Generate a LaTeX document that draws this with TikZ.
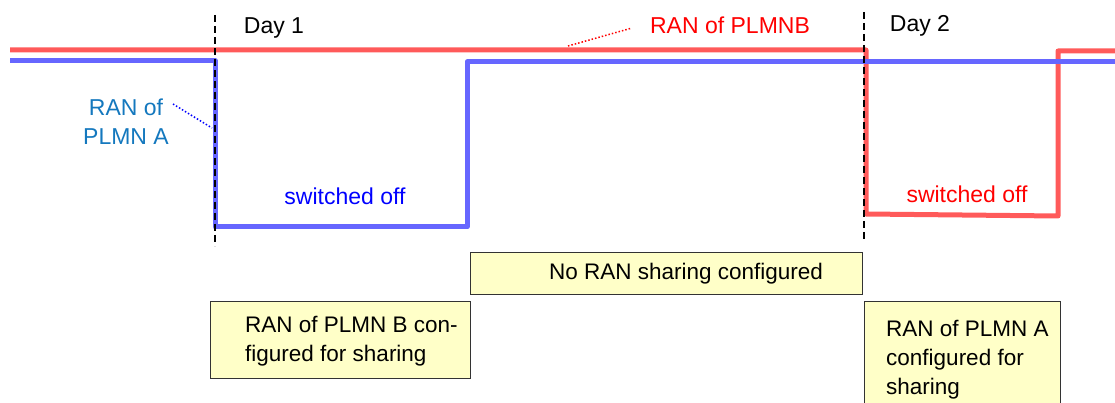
\documentclass[tikz,border=0pt]{standalone}
\usepackage{fontspec}
\setmainfont{Liberation Sans}
\definecolor{redln}{RGB}{255,90,90}
\definecolor{blueln}{RGB}{102,102,255}
\definecolor{redtxt}{RGB}{255,0,0}
\definecolor{bluetxt}{RGB}{20,120,190}
\definecolor{notefill}{RGB}{255,255,200}
\begin{document}
\begin{tikzpicture}[x=1pt,y=-1pt,
  redline/.style={draw=redln, line width=5pt, line join=round},
  blueline/.style={draw=blueln, line width=5pt, line join=round},
  daymark/.style={draw=black, line width=2.3pt, dash pattern=on 7pt off 4pt},
  lbl/.style={font=\fontsize{23}{29}\selectfont, inner sep=0pt},
  notebox/.style={draw=black!80, line width=1pt, fill=notefill, inner sep=0pt, anchor=north west},
  notetext/.style={font=\fontsize{22.5}{29}\selectfont, inner sep=0pt, align=left, anchor=west}
]
\useasboundingbox (0,0) rectangle (1115,403);
% boxes
\node[notebox, minimum width=392pt, minimum height=42pt] (nosh) at (470,252) {};
\node[notetext, anchor=center] (noshtext) at (686,274) {No RAN sharing configured};
\node[notebox, minimum width=260pt, minimum height=77pt] (boxb) at (210,301) {};
\node[notetext] (boxbtext) at (245,341) {RAN of PLMN B con-\\figured for sharing};
\node[notebox, minimum width=196pt, minimum height=110pt] (boxa) at (864,301) {};
\node[notetext] (boxatext) at (886,359.5) {RAN of PLMN A\\configured for\\sharing};
% signal lines
\draw[redline] (10,50) -- (866,50) -- (866,214) -- (1058,216) -- (1058,51) -- (1115,51);
\draw[blueline] (10,61) -- (215,61) -- (215,227) -- (467,227) -- (467,62) -- (1115,62);
% day markers
\coordinate (d1t) at (215,15); \coordinate (d1b) at (215,246);
\coordinate (d2t) at (864,12); \coordinate (d2b) at (864,242);
\draw[daymark] (d1t) -- (d1b);
\draw[daymark] (d2t) -- (d2b);
\node[lbl] (day1) at (274,28) {Day 1};
\node[lbl] (day2) at (920,26) {Day 2};
% labels
\node[lbl, text=redtxt] (ranb) at (730,25) {RAN of PLMNB};
\coordinate (ranbpt) at (568,46);
\coordinate (ranbend) at (632,28);
\draw[redtxt, line width=1.5pt, dotted] (ranbpt) -- (ranbend);
\node[lbl, align=center, text=bluetxt] (rana) at (126,122) {RAN of\\PLMN A};
\coordinate (ranapt) at (212,128);
\coordinate (ranaend) at (173,104);
\draw[blue, line width=1.5pt, dotted] (ranaend) -- (ranapt);
\node[lbl, text=blue] (offa) at (345,196) {switched off};
\node[lbl, text=redtxt] (offb) at (967,194) {switched off};
\end{tikzpicture}
\end{document}
